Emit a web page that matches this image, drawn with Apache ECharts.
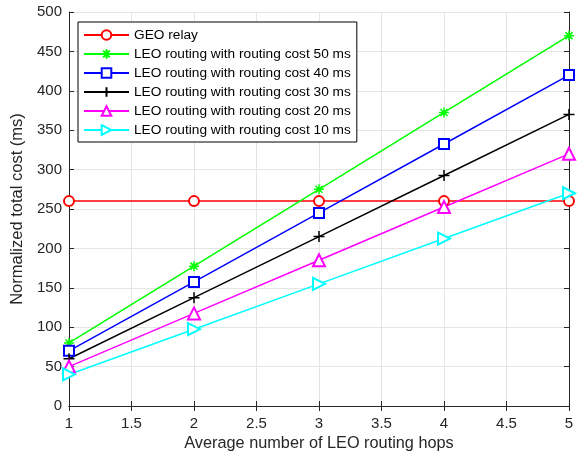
<!DOCTYPE html>
<html>
<head>
<meta charset="utf-8">
<script src="https://cdn.jsdelivr.net/npm/echarts@6/dist/echarts.min.js"></script>
<style>
  html, body { margin: 0; padding: 0; background: #fff; }
  #main { width: 581px; height: 457px; }
</style>
</head>
<body>
<div id="main"></div>
<script>
// hops on x axis
const hops = [1, 2, 3, 4, 5];
const geoRelay = [260, 260, 260, 260, 260];
const leo50 = [80, 177.5, 275, 372.5, 470];
const leo40 = [70, 157.5, 245, 332.5, 420];
const leo30 = [60, 137.5, 215, 292.5, 370];
const leo20 = [50, 117.5, 185, 252.5, 320];
const leo10 = [40, 97.5, 155, 212.5, 270];

const font = 'Liberation Sans, Arial, sans-serif';
const axisColor = '#262626';

const asterisk = 'path://M5,0 L5,10 M0,5 L10,5 M1.5,1.5 L8.5,8.5 M8.5,1.5 L1.5,8.5';
const plus = 'path://M5,0 L5,10 M0,5 L10,5';

function pts(ys) {
  return hops.map((x, i) => [x, ys[i]]);
}

function mkSeries(name, ys, color, symbol, size, extra) {
  let s = {
    name: name,
    type: 'line',
    data: pts(ys),
    symbol: symbol,
    symbolSize: size,
    showAllSymbol: true,
    lineStyle: { color: color, width: 1.5 },
    itemStyle: { color: color, borderColor: color, borderWidth: 1.5 },
    emphasis: { disabled: true },
    z: 3
  };
  return Object.assign(s, extra || {});
}

let chart = echarts.init(document.getElementById('main'));
let option = {
  animation: false,
  backgroundColor: '#fff',
  textStyle: { fontFamily: font },
  grid: { left: 69, right: 12, top: 12, bottom: 51 },
  legend: {
    left: 78,
    top: 22,
    orient: 'vertical',
    itemWidth: 45,
    itemHeight: 12,
    itemGap: 5,
    padding: [6, 6, 5, 5],
    borderColor: '#000',
    borderWidth: 1,
    borderRadius: 0,
    backgroundColor: '#fff',
    textStyle: { fontSize: 13.7, color: '#000', fontFamily: font },
    data: ['GEO relay', 'LEO routing with routing cost 50 ms', 'LEO routing with routing cost 40 ms',
      'LEO routing with routing cost 30 ms', 'LEO routing with routing cost 20 ms', 'LEO routing with routing cost 10 ms']
  },
  xAxis: [{
    type: 'value',
    min: 1, max: 5, interval: 0.5,
    name: 'Average number of LEO routing hops',
    nameLocation: 'middle',
    nameGap: 25,
    nameTextStyle: { fontSize: 16.3, color: axisColor },
    axisLine: { onZero: false, lineStyle: { color: axisColor } },
    axisTick: { inside: true, length: 5, lineStyle: { color: axisColor } },
    axisLabel: { fontSize: 15, color: axisColor, margin: 10 },
    splitLine: { show: true, lineStyle: { color: '#e5e5e5' } }
  }, {
    type: 'value', position: 'top',
    min: 1, max: 5, interval: 0.5,
    axisLine: { show: true, lineStyle: { color: axisColor } },
    axisTick: { inside: true, length: 5, lineStyle: { color: axisColor } },
    axisLabel: { show: false },
    splitLine: { show: false }
  }],
  yAxis: [{
    type: 'value',
    min: 0, max: 500, interval: 50,
    name: 'Normalized total cost (ms)',
    nameLocation: 'middle',
    nameGap: 38,
    nameTextStyle: { fontSize: 16.5, color: axisColor },
    axisLine: { show: true, onZero: false, lineStyle: { color: axisColor } },
    axisTick: { show: true, inside: true, length: 5, lineStyle: { color: axisColor } },
    axisLabel: { fontSize: 15, color: axisColor, margin: 7 },
    splitLine: { show: true, lineStyle: { color: '#e5e5e5' } }
  }, {
    type: 'value', position: 'right',
    min: 0, max: 500, interval: 50,
    axisLine: { show: true, lineStyle: { color: axisColor } },
    axisTick: { show: true, inside: true, length: 5, lineStyle: { color: axisColor } },
    axisLabel: { show: false },
    splitLine: { show: false }
  }],
  series: [
    mkSeries('GEO relay', geoRelay, '#ff0000', 'emptyCircle', 10),
    mkSeries('LEO routing with routing cost 50 ms', leo50, '#00ff00', asterisk, 10),
    mkSeries('LEO routing with routing cost 40 ms', leo40, '#0000ff', 'emptyRect', 10),
    mkSeries('LEO routing with routing cost 30 ms', leo30, '#000000', plus, 11),
    mkSeries('LEO routing with routing cost 20 ms', leo20, '#ff00ff', 'emptyTriangle', 12),
    mkSeries('LEO routing with routing cost 10 ms', leo10, '#00ffff', 'emptyTriangle', 12, { symbolRotate: -90 })
  ]
};
chart.setOption(option);
</script>
</body>
</html>
